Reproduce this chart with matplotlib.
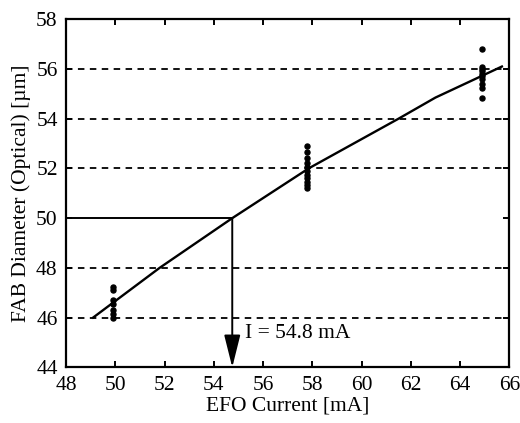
import numpy as np
import matplotlib
matplotlib.use("Agg")
import matplotlib.pyplot as plt

# measured FAB diameters at three EFO currents
cur_a = 49.9
fab_a = [47.25, 47.1, 46.7, 46.55, 46.3, 46.15, 45.97]
cur_b = 57.8
fab_b = [52.92, 52.65, 52.4, 52.22, 52.05, 51.9, 51.75, 51.6, 51.45, 51.32, 51.2]
cur_c = 64.9
fab_c = [56.8, 56.1, 56.0, 55.9, 55.8, 55.7, 55.6, 55.4, 55.25, 54.85]

# fitted curve
fit_x = [49.1, 51.8, 54.75, 57.85, 61.5, 63.0, 65.7]
fit_y = [46.0, 48.0, 50.0, 52.0, 54.0, 54.85, 56.1]

target_d = 50.0
target_i = 54.75
target_label = "I = 54.8 mA"

plt.rcParams['font.family'] = ['Liberation Serif', 'DejaVu Serif']
plt.rcParams['font.size'] = 15.5

fig = plt.figure(figsize=(5.2, 4.23), dpi=100)
ax = fig.add_axes([0.127, 0.1317, 0.8524, 0.8227])

for yv in [46, 48, 52, 54, 56]:
    ax.plot([48, 66], [yv, yv], color='k', lw=1.3, dashes=(3.6, 3), zorder=1)

ax.plot(fit_x, fit_y, color='k', lw=1.7, zorder=3)
for cx, vals in [(cur_a, fab_a), (cur_b, fab_b), (cur_c, fab_c)]:
    ax.plot([cx] * len(vals), vals, 'o', color='k', ms=3.6, zorder=4)

ax.plot([48, target_i], [target_d, target_d], color='k', lw=1.4, zorder=2)
ax.annotate('', xy=(target_i, 44), xytext=(target_i, target_d),
            arrowprops=dict(arrowstyle='-|>,head_length=1.0,head_width=0.25',
                            lw=1.4, color='k', shrinkA=0, shrinkB=0,
                            mutation_scale=20), zorder=5)
ax.text(55.25, 45.35, target_label, ha='left', va='center')

ax.set_xlim(48, 66)
ax.set_ylim(44, 58)
ax.set_xticks(np.arange(48, 67, 2))
ax.set_yticks(np.arange(44, 59, 2))
ax.tick_params(direction='in', length=4.5, width=1.4, top=True, right=True, pad=6)
for s in ax.spines.values():
    s.set_linewidth(1.6)

ax.set_xlabel("EFO Current [mA]", labelpad=1)
ax.set_ylabel("FAB Diameter (Optical) [µm]", labelpad=4)

fig.savefig("out.png", dpi=100)
